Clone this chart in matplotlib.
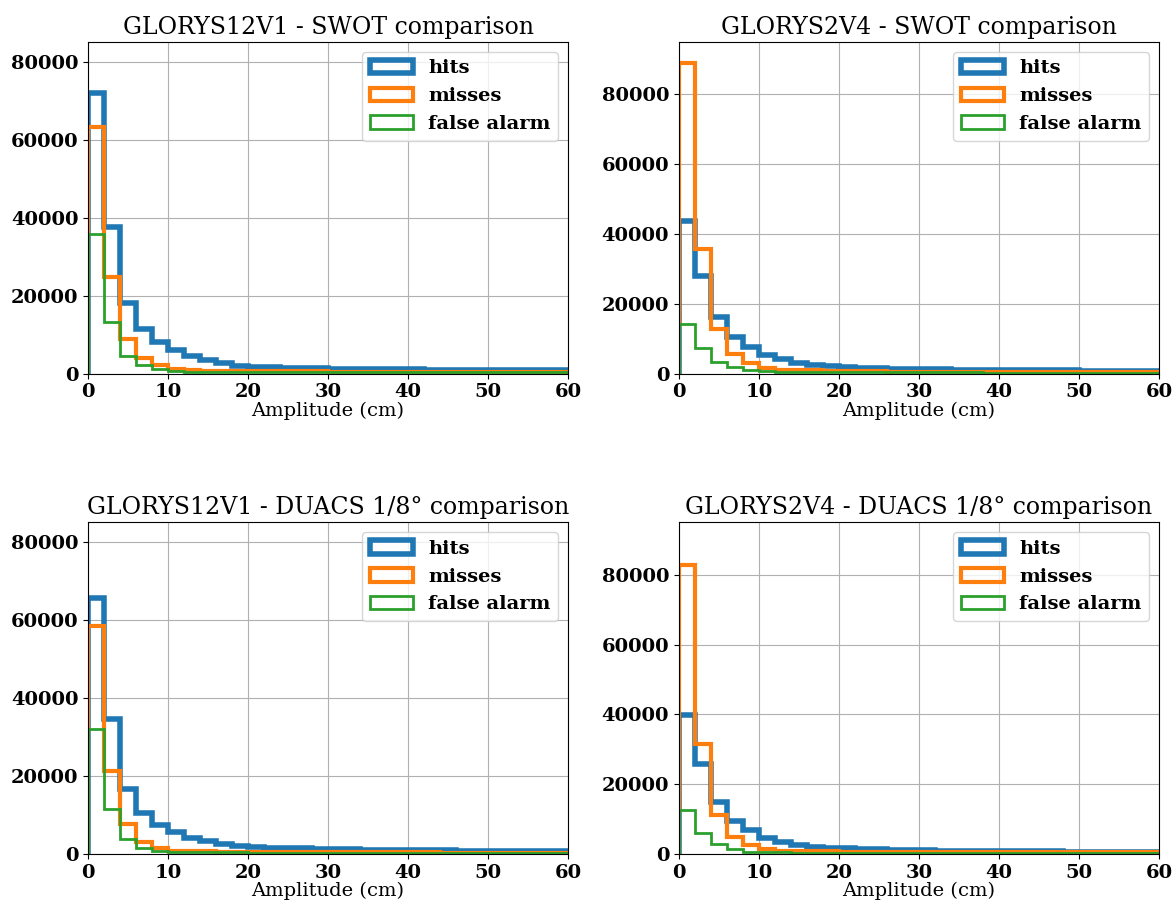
import numpy as np
import matplotlib
matplotlib.use("Agg")
import matplotlib.pyplot as plt

plt.rcParams['font.family'] = ['DejaVu Serif']

# bin edges (cm), 2 cm wide bins
edges = np.arange(0, 62, 2)

# GLORYS12V1 - SWOT
g12_swot_hits = [72000, 37500, 18200, 11400, 8100, 6100, 4550, 3450, 2600, 2050,
                 1750, 1600, 1480, 1380, 1300, 1240, 1200, 1160, 1120, 1080,
                 1040, 1010, 990, 970, 950, 940, 930, 920, 910, 900]
g12_swot_miss = [63400, 24700, 8800, 4100, 2100, 1100, 800, 720, 680, 650,
                 620, 600, 580, 560, 540, 520, 500, 490, 480, 470,
                 460, 450, 440, 430, 420, 410, 400, 390, 380, 370]
g12_swot_fa = [35700, 13300, 4600, 2100, 1100, 650, 520, 480, 460, 440,
               430, 420, 410, 400, 390, 380, 370, 360, 350, 340,
               330, 320, 310, 300, 300, 290, 290, 280, 280, 270]

# GLORYS2V4 - SWOT
g2_swot_hits = [43700, 27900, 16250, 10500, 7650, 5450, 4100, 3150, 2580, 2050,
                1850, 1700, 1530, 1430, 1300, 1240, 1200, 1150, 1100, 1050,
                1000, 970, 960, 950, 900, 860, 800, 780, 770, 760]
g2_swot_miss = [89000, 35800, 12800, 5700, 2950, 1620, 1150, 1000, 900, 800,
                700, 650, 600, 580, 560, 540, 520, 500, 480, 460,
                440, 420, 410, 400, 390, 380, 370, 360, 350, 340]
g2_swot_fa = [14200, 7350, 3250, 1900, 960, 600, 500, 450, 420, 400,
              380, 370, 360, 350, 340, 330, 320, 310, 300, 290,
              280, 270, 260, 250, 250, 240, 240, 230, 230, 220]

# GLORYS12V1 - DUACS 1/8°
g12_duacs_hits = [65800, 34600, 16700, 10600, 7400, 5650, 4200, 3250, 2480, 1950,
                  1800, 1630, 1500, 1420, 1300, 1200, 1150, 1100, 1040, 1020,
                  960, 940, 920, 880, 860, 850, 800, 780, 770, 760]
g12_duacs_miss = [58500, 21400, 7600, 3100, 1450, 860, 700, 650, 600, 560,
                  530, 500, 480, 460, 450, 440, 430, 420, 410, 400,
                  390, 380, 370, 360, 350, 340, 330, 320, 310, 300]
g12_duacs_fa = [32200, 11550, 3850, 1630, 770, 550, 480, 440, 410, 390,
                370, 360, 350, 340, 330, 320, 310, 300, 290, 280,
                270, 260, 250, 250, 240, 240, 230, 230, 220, 220]

# GLORYS2V4 - DUACS 1/8°
g2_duacs_hits = [39900, 25700, 15000, 9550, 6900, 4700, 3450, 2700, 2100, 1700,
                 1620, 1430, 1300, 1240, 1150, 1050, 960, 900, 860, 820,
                 800, 760, 740, 720, 600, 580, 570, 560, 560, 550]
g2_duacs_miss = [82800, 31500, 11200, 4970, 2580, 1340, 900, 800, 760, 720,
                 700, 680, 670, 660, 650, 640, 630, 620, 600, 580,
                 560, 540, 520, 500, 480, 470, 460, 450, 440, 430]
g2_duacs_fa = [12500, 5900, 2870, 1340, 670, 500, 430, 400, 380, 360,
               350, 340, 330, 320, 310, 300, 290, 280, 270, 260,
               250, 240, 240, 230, 230, 220, 220, 210, 210, 200]

titles = ["GLORYS12V1 - SWOT comparison", "GLORYS2V4 - SWOT comparison",
          "GLORYS12V1 - DUACS 1/8° comparison", "GLORYS2V4 - DUACS 1/8° comparison"]
panels = [(g12_swot_hits, g12_swot_miss, g12_swot_fa),
          (g2_swot_hits, g2_swot_miss, g2_swot_fa),
          (g12_duacs_hits, g12_duacs_miss, g12_duacs_fa),
          (g2_duacs_hits, g2_duacs_miss, g2_duacs_fa)]
ymax = [85100, 95000, 85100, 95000]

fig, axes = plt.subplots(2, 2, figsize=(11.75, 9.05), dpi=100)
fig.subplots_adjust(left=0.0749, right=0.9864, top=0.9536, bottom=0.0564,
                    wspace=0.231, hspace=0.449)

centers = edges[:-1] + 1
for ax, title, (hits, miss, fa), ym in zip(axes.flat, titles, panels, ymax):
    ax.hist(centers, bins=edges, weights=hits, histtype='step', lw=4,
            color='tab:blue', label='hits')
    ax.hist(centers, bins=edges, weights=miss, histtype='step', lw=3,
            color='tab:orange', label='misses')
    ax.hist(centers, bins=edges, weights=fa, histtype='step', lw=2,
            color='tab:green', label='false alarm')
    ax.set_xlim(0, 60)
    ax.set_ylim(0, ym)
    ax.set_yticks([0, 20000, 40000, 60000, 80000])
    ax.grid(True)
    ax.set_title(title, fontsize=17)
    ax.set_xlabel("Amplitude (cm)", fontsize=14, labelpad=0)
    for lab in ax.get_xticklabels() + ax.get_yticklabels():
        lab.set_fontweight('bold')
        lab.set_fontsize(14)
    ax.legend(loc='upper right', prop={'weight': 'bold', 'size': 14},
              handlelength=2.2)

fig.savefig("out.png")
